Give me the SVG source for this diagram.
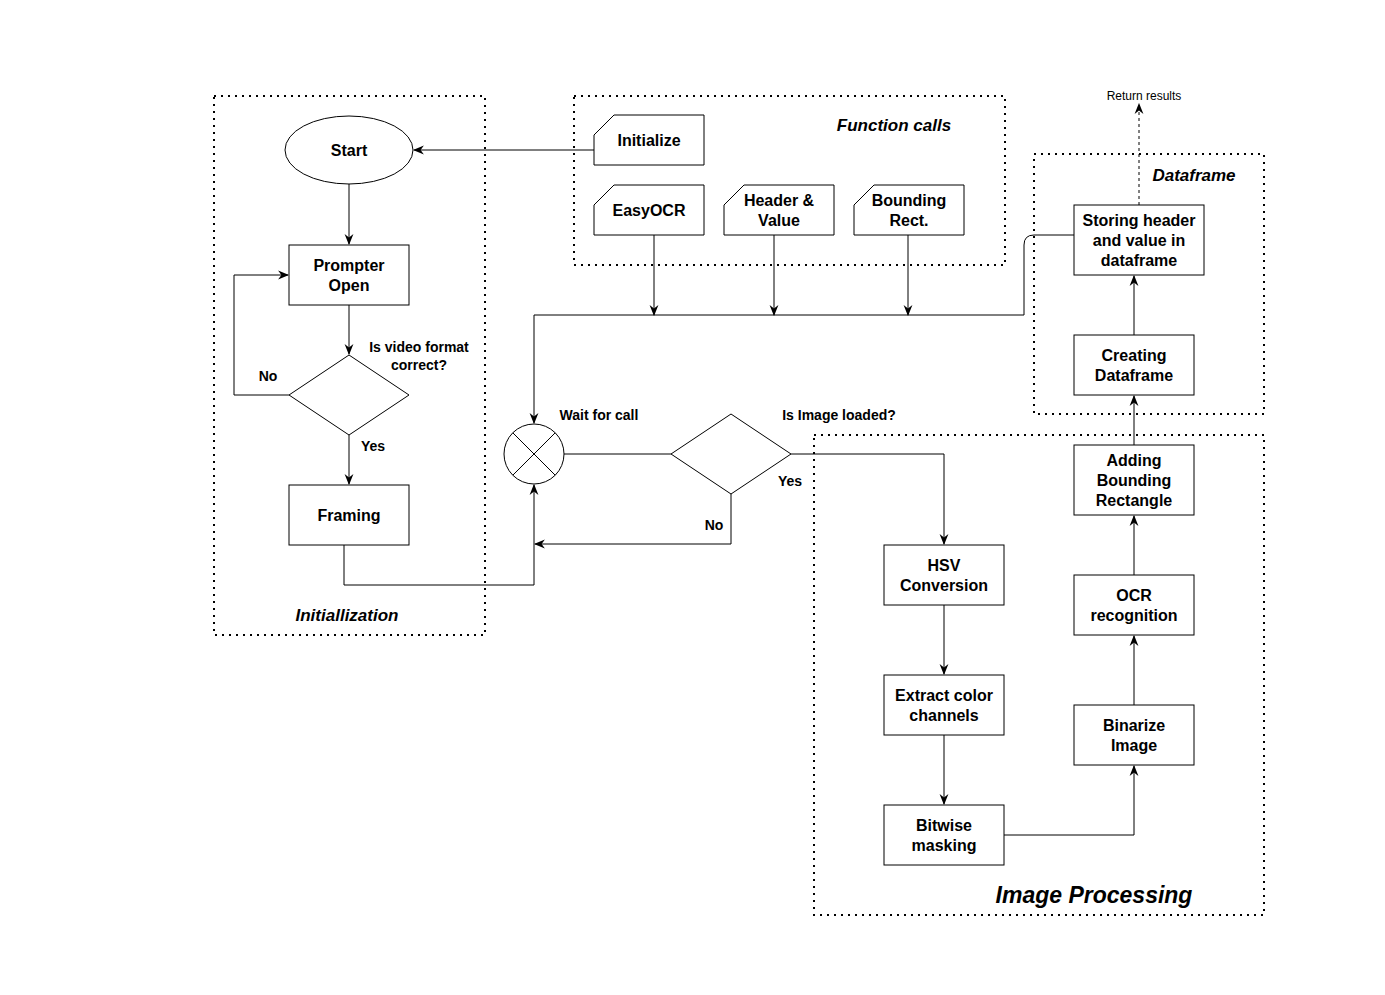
<svg xmlns="http://www.w3.org/2000/svg" width="1385" height="995" viewBox="0 0 1385 995">
<style>
.c{fill:none;stroke:#000;stroke-width:2;stroke-dasharray:2 5}
.n{fill:#fff;stroke:#000;stroke-width:1}
.t{font-family:"Liberation Sans",Arial,sans-serif;font-size:16px;font-weight:bold;text-anchor:middle;fill:#000}
.l{font-family:"Liberation Sans",Arial,sans-serif;font-size:14px;font-weight:bold;text-anchor:middle;fill:#000}
.h{font-family:"Liberation Sans",Arial,sans-serif;font-size:17px;font-weight:bold;font-style:italic;text-anchor:middle;fill:#000}
.e{fill:none;stroke:#000;stroke-width:1}
</style>
<defs>
<marker id="a" viewBox="0 0 10 10" refX="9" refY="5" markerWidth="11" markerHeight="11" markerUnits="userSpaceOnUse" orient="auto">
<path d="M0,1 L10,5 L0,9 L3,5 Z" fill="#000"/>
</marker>
</defs>
<rect width="1385" height="995" fill="#fff"/>
<g id="containers">
<rect class="c" x="214" y="96" width="271" height="539"/>
<rect class="c" x="574" y="96" width="431" height="169"/>
<rect class="c" x="1034" y="154" width="230" height="260"/>
<rect class="c" x="814" y="435" width="450" height="480"/>
<text class="h" x="894" y="131">Function calls</text>
<text class="h" x="1194" y="181">Dataframe</text>
<text class="h" x="347" y="621">Initiallization</text>
<text class="h" x="1094" y="903" style="font-size:23px">Image Processing</text>
</g>
<g id="connectors">
<path class="e" d="M594,150 H414" marker-end="url(#a)"/>
<path class="e" d="M349,184 V244" marker-end="url(#a)"/>
<path class="e" d="M349,305 V354" marker-end="url(#a)"/>
<path class="e" d="M289,395 H234 V275 H288" marker-end="url(#a)"/>
<path class="e" d="M349,435 V484" marker-end="url(#a)"/>
<path class="e" d="M344,545 V585 H534 V485" marker-end="url(#a)"/>
<path class="e" d="M654,235 V315" marker-end="url(#a)"/>
<path class="e" d="M774,235 V315" marker-end="url(#a)"/>
<path class="e" d="M908,235 V315" marker-end="url(#a)"/>
<path class="e" d="M1074,235 H1034 Q1024,235 1024,245 V315 H534 V423" marker-end="url(#a)"/>
<path class="e" d="M564,454 H671"/>
<path class="e" d="M791,454 H944 V544" marker-end="url(#a)"/>
<path class="e" d="M731,494 V544 H535" marker-end="url(#a)"/>
<path class="e" d="M944,605 V674" marker-end="url(#a)"/>
<path class="e" d="M944,735 V804" marker-end="url(#a)"/>
<path class="e" d="M1004,835 H1134 V766" marker-end="url(#a)"/>
<path class="e" d="M1134,705 V636" marker-end="url(#a)"/>
<path class="e" d="M1134,575 V516" marker-end="url(#a)"/>
<path class="e" d="M1134,445 V396" marker-end="url(#a)"/>
<path class="e" d="M1134,335 V276" marker-end="url(#a)"/>
<path class="e" d="M1139,205 V104" stroke-dasharray="3 3" marker-end="url(#a)"/>
<text x="1144" y="100" style="font-family:'Liberation Sans',Arial,sans-serif;font-size:12px;text-anchor:middle">Return results</text>
<text class="l" x="268" y="381">No</text>
<text class="l" x="373" y="451">Yes</text>
<text class="l" x="419" y="352">Is video format</text>
<text class="l" x="419" y="370">correct?</text>
<text class="l" x="599" y="420">Wait for call</text>
<text class="l" x="839" y="420">Is Image loaded?</text>
<text class="l" x="790" y="486">Yes</text>
<text class="l" x="714" y="530">No</text>
</g>
<g id="start"><ellipse class="n" cx="349" cy="150" rx="64" ry="34"/><text class="t" x="349" y="156">Start</text></g>
<g id="prompter"><rect class="n" x="289" y="245" width="120" height="60"/><text class="t" x="349" y="271">Prompter</text><text class="t" x="349" y="291">Open</text></g>
<g id="videoformat"><path class="n" d="M349,355 L409,395 L349,435 L289,395 Z"/></g>
<g id="framing"><rect class="n" x="289" y="485" width="120" height="60"/><text class="t" x="349" y="521">Framing</text></g>
<g id="waitforcall"><circle class="n" cx="534" cy="454" r="30"/><path class="e" d="M512.8,432.8 L555.2,475.2 M555.2,432.8 L512.8,475.2"/></g>
<g id="imageloaded"><path class="n" d="M731,414 L791,454 L731,494 L671,454 Z"/></g>
<g id="initialize"><path class="n" d="M614,115 H704 V165 H594 V135 Z"/><text class="t" x="649" y="146">Initialize</text></g>
<g id="easyocr"><path class="n" d="M614,185 H704 V235 H594 V205 Z"/><text class="t" x="649" y="216">EasyOCR</text></g>
<g id="headervalue"><path class="n" d="M744,185 H834 V235 H724 V205 Z"/><text class="t" x="779" y="206">Header &amp;</text><text class="t" x="779" y="226">Value</text></g>
<g id="boundingrect"><path class="n" d="M874,185 H964 V235 H854 V205 Z"/><text class="t" x="909" y="206">Bounding</text><text class="t" x="909" y="226">Rect.</text></g>
<g id="storing"><rect class="n" x="1074" y="205" width="130" height="70"/><text class="t" x="1139" y="226">Storing header</text><text class="t" x="1139" y="246">and value in</text><text class="t" x="1139" y="266">dataframe</text></g>
<g id="creating"><rect class="n" x="1074" y="335" width="120" height="60"/><text class="t" x="1134" y="361">Creating</text><text class="t" x="1134" y="381">Dataframe</text></g>
<g id="adding"><rect class="n" x="1074" y="445" width="120" height="70"/><text class="t" x="1134" y="466">Adding</text><text class="t" x="1134" y="486">Bounding</text><text class="t" x="1134" y="506">Rectangle</text></g>
<g id="ocr"><rect class="n" x="1074" y="575" width="120" height="60"/><text class="t" x="1134" y="601">OCR</text><text class="t" x="1134" y="621">recognition</text></g>
<g id="binarize"><rect class="n" x="1074" y="705" width="120" height="60"/><text class="t" x="1134" y="731">Binarize</text><text class="t" x="1134" y="751">Image</text></g>
<g id="hsv"><rect class="n" x="884" y="545" width="120" height="60"/><text class="t" x="944" y="571">HSV</text><text class="t" x="944" y="591">Conversion</text></g>
<g id="extract"><rect class="n" x="884" y="675" width="120" height="60"/><text class="t" x="944" y="701">Extract color</text><text class="t" x="944" y="721">channels</text></g>
<g id="bitwise"><rect class="n" x="884" y="805" width="120" height="60"/><text class="t" x="944" y="831">Bitwise</text><text class="t" x="944" y="851">masking</text></g>
</svg>
